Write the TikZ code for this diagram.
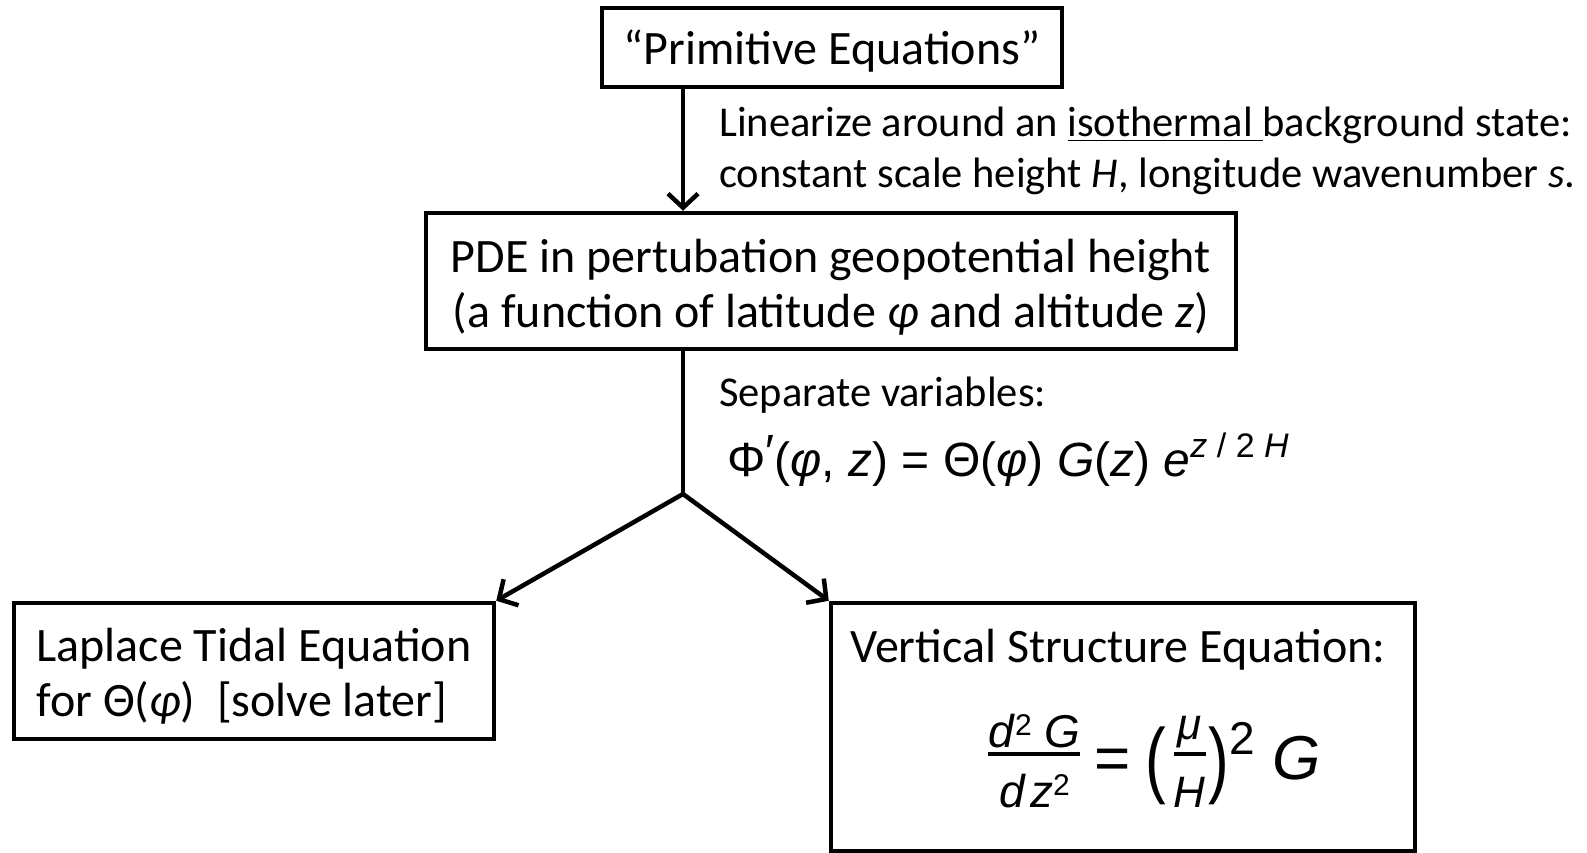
\documentclass[tikz,border=0pt]{standalone}
\usepackage{fontspec}
\usepackage{amsmath}
\setmainfont{Carlito}
\newfontfamily\eqf{Liberation Sans}
\usetikzlibrary{arrows.meta}
\tikzset{
  box/.style={draw, line width=4.5pt, inner sep=0pt},
  boxtext/.style={font=\fontsize{48}{55}\selectfont, align=center, inner sep=0pt},
  note/.style={font=\fontsize{42.5}{51}\selectfont, align=left, anchor=west, inner sep=0pt},
  conn/.style={line width=4.5pt, -{Straight Barb[length=14pt,width=30pt,line width=4.5pt]}},
  plainline/.style={line width=4.5pt}
}
\newcommand{\fs}[1]{\fontsize{#1}{#1}\selectfont}
\newcommand{\rsup}[2]{\raisebox{#1}{\fs{34}#2}}
\newcommand{\bigpar}[1]{\raisebox{-8pt}{\scalebox{1}[1.35]{#1}}}
\newcommand{\dstrut}{\rule{0pt}{48pt}}
\newcommand{\myfrac}[2]{\raisebox{19pt}{$\genfrac{}{}{4pt}{1}{\hbox{#1}}{\hbox{\dstrut#2}}$}}
\begin{document}
\begin{tikzpicture}[x=1pt,y=-1pt]
\useasboundingbox (0,0) rectangle (1587,853);
\fill[white] (0,0) rectangle (1587,853);
% boxes
\node[box, minimum width=460pt, minimum height=79pt] (prim) at (832,47.5) {};
\node[boxtext] (primt) at (832,51) {“Primitive Equations”};
\node[box, minimum width=810pt, minimum height=136pt] (pde) at (831,281) {};
\node[boxtext] (pdet) at (831,287) {PDE in pertubation geopotential height\\(a function of latitude \textit{φ} and altitude \textit{z})};
\node[box, minimum width=480pt, minimum height=136pt] (lap) at (254,671) {};
\node[boxtext, align=left] (lapt) at (254,676) {Laplace Tidal Equation\\for Θ(\textit{φ})\ \ [solve later]};
\node[box, minimum width=584pt, minimum height=248pt] (vse) at (1123,727) {};
\node[boxtext, anchor=west] (vset) at (850,650) {Vertical Structure Equation:};
\node[inner sep=0pt, anchor=base west] (vseq) at (987,779) {\eqf\fs{62}%
  $\myfrac{\fs{46}\textit{d}\raisebox{12pt}{\fs{30}2}\ \textit{G}}{\fs{46}\textit{d\hspace{0.12em}z}\raisebox{12pt}{\fs{30}2}}%
  \hspace{13pt}\hbox{=}\hspace{15pt}%
  \hbox{\bigpar{(}}\hspace{6pt}\myfrac{\fs{44}\textit{μ}}{\fs{44}\textit{H}}\hspace{2pt}%
  \hbox{\bigpar{)}\raisebox{25pt}{\fs{46}2}\hspace{18pt}\textit{G}}$};
% notes
\node[note] (lin) at (719,151) {Linearize around an \underline{isothermal\ }background state:\\constant scale height \textit{H}, longitude wavenumber \textit{s}.};
\node[note, anchor=base west] (sep) at (719,406) {Separate variables:};
\node[anchor=base west, inner sep=0pt] (sepeq) at (727,476) {\eqf\fs{48}Φ\raisebox{8pt}{\fs{48}′}(\textit{φ}, \textit{z}) = Θ(\textit{φ}) \textit{G}(\textit{z}) \textit{e}\rsup{19pt}{\textit{z} / 2 \textit{H}}};
% connectors
\coordinate (br) at (683,494);
\draw[conn] (prim.south -| br) -- (pde.north -| br);
\draw[plainline] (pde.south -| br) -- (br);
\draw[conn] (br) -- (lap.north east);
\draw[conn] (br) -- (vse.north west);
\end{tikzpicture}
\end{document}
